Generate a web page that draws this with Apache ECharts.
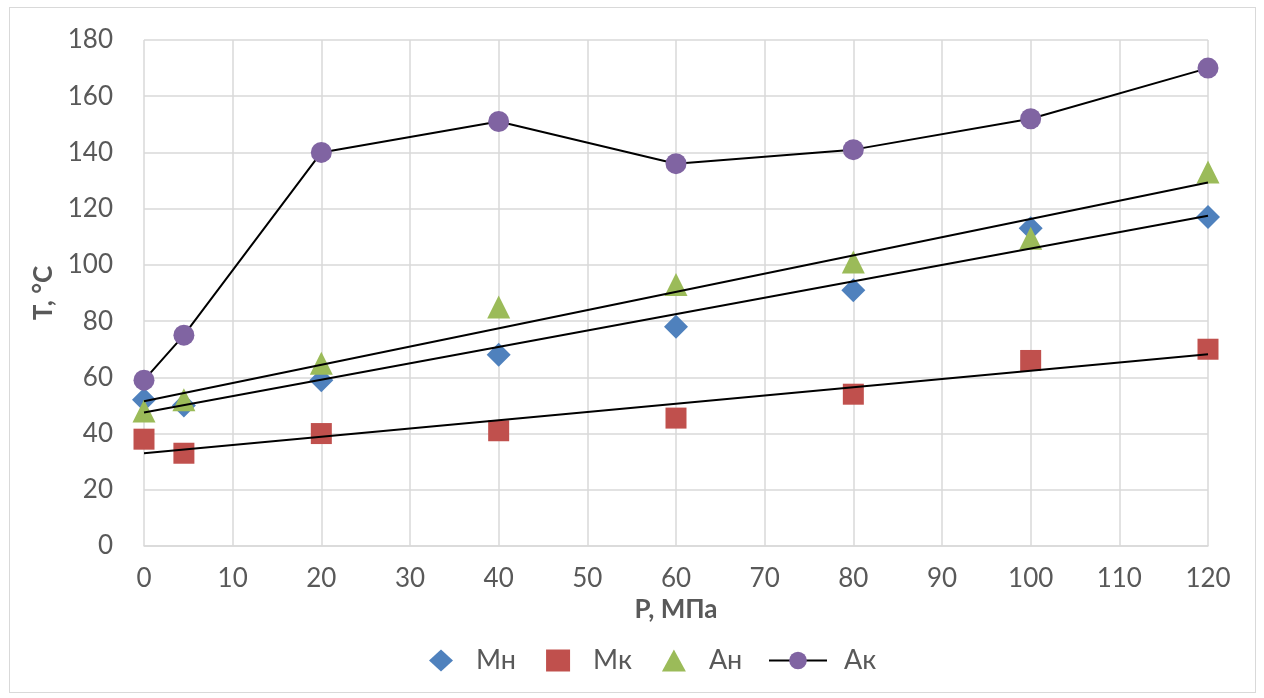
<!DOCTYPE html>
<html>
<head>
<meta charset="utf-8">
<script src="https://cdn.jsdelivr.net/npm/echarts@6/dist/echarts.min.js"></script>
<style>
html, body { margin: 0; padding: 0; background: #fff; }
#wrap { position: absolute; left: 9px; top: 7px; width: 1245px; height: 684px; border: 1px solid #d9d9d9; }
#main { position: absolute; left: 0; top: 0; width: 1264px; height: 698px; }
</style>
</head>
<body>
<div id="wrap"></div>
<div id="main"></div>
<script>
// давление, МПа
var pressure = [0, 4.5, 20, 40, 60, 80, 100, 120];
// температура, °C
var tMn = [52, 50, 59, 68, 78, 91, 113, 117];
var tMk = [38, 33, 40, 41, 45.5, 54, 66, 70];
var tAn = [48, 52, 65, 85, 93, 101, 109.5, 133];
var tAk = [59, 75, 140, 151, 136, 141, 152, 170];
// линии тренда (концы)
var trendX = [0, 120];
var trendMn = [47.5, 117.5];
var trendMk = [33, 68.2];
var trendAn = [51.5, 129.3];

function pairs(xs, ys) {
	var out = [];
	for (var i = 0; i < xs.length; i++) {
		out.push([xs[i], ys[i]]);
	}
	return out;
}

function trend(ys) {
	return {
		type: 'line',
		data: pairs(trendX, ys),
		symbol: 'none',
		silent: true,
		lineStyle: { color: '#000', width: 2 },
		z: 3
	};
}

var font = 'Lato, "Open Sans", sans-serif';
var legendText = { fontSize: 27, color: '#595959', fontFamily: font, padding: [0, 0, 0, 18] };
var myChart = echarts.init(document.getElementById('main'));
var option = {
	animation: false,
	textStyle: { fontFamily: font },
	grid: { left: 144, right: 56, top: 40, bottom: 152 },
	legend: [{
		bottom: 19,
		left: 424,
		itemGap: 30,
		itemWidth: 24,
		itemHeight: 22,
		textStyle: legendText,
		data: [
			{ name: 'Мн', icon: 'diamond' },
			{ name: 'Мк', icon: 'rect' },
			{ name: 'Ан', icon: 'triangle' }
		]
	}, {
		bottom: 19,
		left: 763,
		itemWidth: 58,
		itemHeight: 22,
		textStyle: { fontSize: 27, color: '#595959', fontFamily: font, padding: [0, 0, 0, 12] },
		data: [{ name: 'Ак' }]
	}],
	xAxis: {
		type: 'value',
		min: 0,
		max: 120,
		interval: 10,
		name: 'P, МПа',
		nameLocation: 'middle',
		nameGap: 48,
		nameTextStyle: { fontSize: 26, fontWeight: 'bold', color: '#595959' },
		axisLine: { show: true, lineStyle: { color: '#d9d9d9', width: 1.5 } },
		axisTick: { show: false },
		axisLabel: { fontSize: 26, color: '#595959', margin: 20 },
		splitLine: { lineStyle: { color: '#d9d9d9', width: 1.5 } }
	},
	yAxis: {
		type: 'value',
		min: 0,
		max: 180,
		interval: 20,
		name: 'T, °C',
		nameLocation: 'middle',
		nameGap: 86,
		nameTextStyle: { fontSize: 26, fontWeight: 'bold', color: '#595959' },
		axisLine: { show: false },
		axisTick: { show: false },
		axisLabel: { fontSize: 26, color: '#595959', margin: 31 },
		splitLine: { lineStyle: { color: '#d9d9d9', width: 1.5 } }
	},
	series: [
		{
			name: 'Мн',
			type: 'scatter',
			symbol: 'diamond',
			symbolSize: 24,
			itemStyle: { color: '#4F81BD', opacity: 1 },
			data: pairs(pressure, tMn),
			z: 2
		},
		{
			name: 'Мк',
			type: 'scatter',
			symbol: 'rect',
			symbolSize: 21,
			itemStyle: { color: '#C0504D', opacity: 1, borderRadius: 2 },
			data: pairs(pressure, tMk),
			z: 2
		},
		{
			name: 'Ан',
			type: 'scatter',
			symbol: 'triangle',
			symbolSize: 23,
			itemStyle: { color: '#9BBB59', opacity: 1 },
			data: pairs(pressure, tAn),
			z: 2
		},
		{
			name: 'Ак',
			type: 'line',
			symbol: 'circle',
			symbolSize: 21,
			showSymbol: true,
			itemStyle: { color: '#8064A2' },
			lineStyle: { color: '#000', width: 2 },
			data: pairs(pressure, tAk),
			z: 4
		},
		trend(trendMn),
		trend(trendMk),
		trend(trendAn)
	]
};
myChart.setOption(option);
</script>
</body>
</html>
